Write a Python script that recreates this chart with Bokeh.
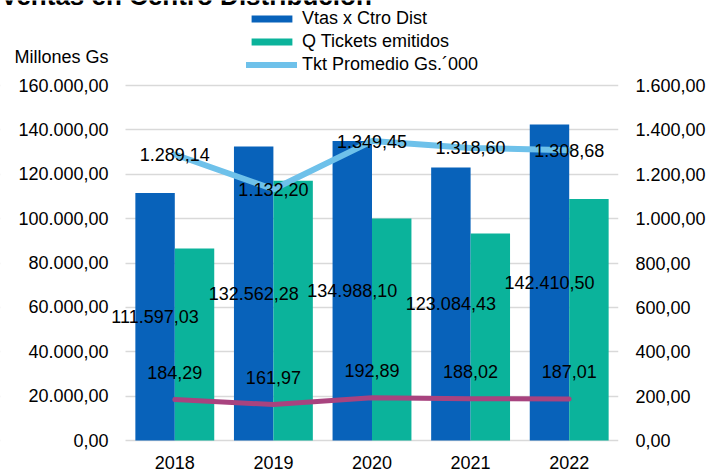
from bokeh.plotting import figure
from bokeh.models import (ColumnDataSource, Range1d, LinearAxis, FixedTicker,
                          Legend, LegendItem, Label, BoxAnnotation)
from bokeh.transform import dodge
from bokeh.core.properties import value
from bokeh.embed import file_html
from bokeh.resources import INLINE

# ---------------- data ----------------
years = ["2018", "2019", "2020", "2021", "2022"]
vtas_ctro_dist = [111597.03, 132562.28, 134988.10, 123084.43, 142410.50]   # Millones Gs (left axis)
q_tickets = [86567, 117084, 100032, 93346, 108820]                        # left axis
tkt_promedio = [1289.14, 1132.20, 1349.45, 1318.60, 1308.68]              # right axis
serie_4 = [184.29, 161.97, 192.89, 188.02, 187.01]                         # right axis
left_ticks = [0, 20000, 40000, 60000, 80000, 100000, 120000, 140000, 160000]
right_ticks = [0, 200, 400, 600, 800, 1000, 1200, 1400, 1600]

title_text = "Ventas en Centro Distribución"
y_title = "Millones Gs"
legend_labels = ["Vtas x Ctro Dist", "Q Tickets emitidos", "Tkt Promedio Gs.´000"]

FONT = "Liberation Sans"
BLUE = "#0862BA"
TEAL = "#0BB39B"
LIGHT = "#6EC1EA"
MAGENTA = "#A8437F"
GRID = "#D9D9D9"

# layout (pixels)
PLOT_LEFT = 125        # where the category area starts
CAT_PX = 493 / 5       # width of one category
ZERO_Y = 440           # pixel row of the 0 line (frame starts at the canvas top)
GRID_H = 355           # height covered by the tick range
BELOW_ZERO = 12        # frame continues a little below the 0 line
CAPTION_Y = 56         # vertical centre of the "Millones Gs" caption, from the top


def es(v):
    s = f"{v:,.2f}"
    return s.replace(",", "X").replace(".", ",").replace("X", ".")


def span(top_tick):
    per_px = top_tick / GRID_H
    return Range1d(-BELOW_ZERO * per_px, ZERO_Y * per_px)


xi = list(range(len(years)))
src = ColumnDataSource(dict(
    xi=xi,
    vtas=vtas_ctro_dist,
    vtas_mid=[v / 2 for v in vtas_ctro_dist],
    vtas_lbl=[es(v) for v in vtas_ctro_dist],
    q=q_tickets,
    tkt=tkt_promedio,
    tkt_lbl=[es(v) for v in tkt_promedio],
    s4=serie_4,
    s4_lbl=[es(v) for v in serie_4],
))

x_first = -0.5
x_last = len(years) - 0.5
p = figure(
    x_range=Range1d(x_first - PLOT_LEFT / CAT_PX, x_last),
    y_range=span(left_ticks[-1]),
    frame_width=int(round(PLOT_LEFT + CAT_PX * len(years))), frame_height=ZERO_Y + BELOW_ZERO,
    min_border_left=0, min_border_right=90, min_border_top=0, min_border_bottom=0,
    output_backend="svg", toolbar_location=None,
)
p.margin = (0, 0, -6, 0)
p.extra_y_ranges = {"right": span(right_ticks[-1])}
p.outline_line_color = None
p.background_fill_color = "white"
p.border_fill_color = "white"

# axes (the caption "Millones Gs" sits on the left axis, above its top tick)
caption_tick = left_ticks[-1] * (ZERO_Y - CAPTION_Y) / GRID_H
ly = p.yaxis[0]
ly.fixed_location = x_first
ly.ticker = FixedTicker(ticks=left_ticks + [caption_tick])
overrides = {t: es(t) for t in left_ticks}
overrides[caption_tick] = y_title
ly.major_label_overrides = overrides
ra = LinearAxis(y_range_name="right", ticker=FixedTicker(ticks=right_ticks))
ra.major_label_overrides = {t: es(t) for t in right_ticks}
p.add_layout(ra, "right")
bx = p.xaxis[0]
bx.ticker = FixedTicker(ticks=xi)
bx.major_label_overrides = {i: y for i, y in zip(xi, years)}

for ax in [ly, ra, bx]:
    ax.axis_line_color = None
    ax.major_tick_line_color = None
    ax.minor_tick_line_color = None
    ax.major_tick_out = 0
    ax.major_tick_in = 0
    ax.major_label_text_font = FONT
    ax.major_label_text_font_size = "18px"
    ax.major_label_text_color = "#000000"
ly.major_label_standoff = 17
ra.major_label_standoff = 17
bx.major_label_standoff = 3

p.xgrid.grid_line_color = None
p.ygrid.ticker = FixedTicker(ticks=left_ticks)
p.ygrid.grid_line_color = GRID
p.ygrid.grid_line_width = 1.5
# grid lines only over the category area
p.add_layout(BoxAnnotation(right=x_first, fill_color="white", fill_alpha=1,
                           line_color=None, level="underlay"))

# bars
r_blue = p.vbar(x=dodge("xi", -0.2), top="vtas", width=0.4,
                source=src, fill_color=BLUE, line_color=None)
r_teal = p.vbar(x=dodge("xi", 0.2), top="q", width=0.4,
                source=src, fill_color=TEAL, line_color=None)

# lines
r_tkt = p.line(x="xi", y="tkt", y_range_name="right", source=src,
               line_color=LIGHT, line_width=6, line_join="round", line_cap="round")
r_s4 = p.line(x="xi", y="s4", y_range_name="right", source=src,
              line_color=MAGENTA, line_width=5, line_join="round", line_cap="round")

# data labels
txt = dict(text_font=value(FONT), text_font_size=value("18px"), text_color="#000000",
           text_align="center", text_baseline="middle")
p.text(x=dodge("xi", -0.2), y="vtas_mid", text="vtas_lbl", source=src, **txt)
p.text(x="xi", y="tkt", text="tkt_lbl", y_range_name="right", source=src, **txt)
p.text(x="xi", y="s4", text="s4_lbl", y_range_name="right", source=src, y_offset=-27.5, **txt)

# legend
legend = Legend(items=[
    LegendItem(label=legend_labels[0], renderers=[r_blue]),
    LegendItem(label=legend_labels[1], renderers=[r_teal]),
    LegendItem(label=legend_labels[2], renderers=[r_tkt]),
], location=(246, 365 + BELOW_ZERO), orientation="vertical")
legend.label_text_font = FONT
legend.label_text_font_size = "18px"
legend.label_text_color = "#000000"
legend.glyph_width = 51
legend.glyph_height = 9
legend.label_height = 16
legend.label_standoff = 5
legend.spacing = 2
legend.padding = 0
legend.margin = 0
legend.border_line_color = None
legend.background_fill_alpha = 0
p.add_layout(legend, "center")

# chart title (its upper part lies above the picture, as in the original crop)
p.add_layout(Label(x=0, y=ZERO_Y + BELOW_ZERO + 5, x_units="screen", y_units="screen",
                   text=title_text, text_font=FONT, text_font_size="26px",
                   text_font_style="bold", text_baseline="alphabetic", text_color="#000000"))

open("out.html", "w").write(file_html(p, INLINE))
